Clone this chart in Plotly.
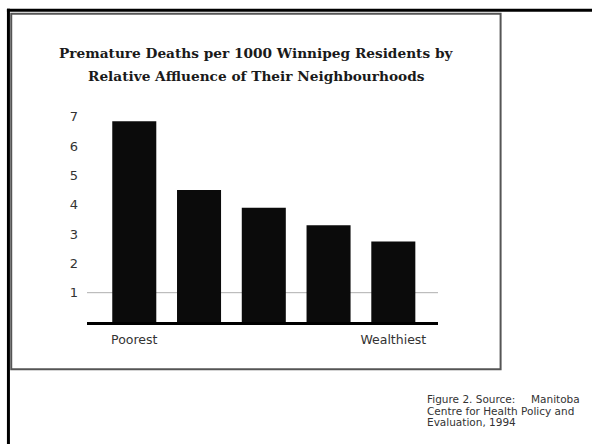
import plotly.graph_objects as go

# Neighbourhood affluence quintiles, poorest to wealthiest
categories = ["Poorest", "Q2", "Q3", "Q4", "Wealthiest"]
deaths_per_1000 = [6.85, 4.5, 3.9, 3.3, 2.75]
y_ticks = [1, 2, 3, 4, 5, 6, 7]
x_tick_labels = ["Poorest", "Wealthiest"]
title_lines = [
    "Premature Deaths per 1000 Winnipeg Residents by",
    "Relative Affluence of Their Neighbourhoods",
]
source_first = ["Figure 2. Source:", "Manitoba"]
source_rest = ["Centre for Health Policy and", "Evaluation, 1994"]

FIG_W, FIG_H = 592, 444
L, R, T, B = 86.7, 438.3, 107.8, 321.7  # plot area in page pixels
PW, PH = R - L, B - T


def px(x):
    return (x - L) / PW


def py(y):
    return (B - y) / PH


fig = go.Figure(
    go.Bar(
        x=categories,
        y=deaths_per_1000,
        width=0.68,
        marker=dict(color="#0b0b0b", line=dict(width=0)),
        hoverinfo="skip",
    )
)

shapes = [
    # light reference line at 1
    dict(type="line", xref="paper", yref="y", x0=0, x1=1, y0=1, y1=1,
         line=dict(color="#b0b0b0", width=1), layer="below"),
    # heavy outer frame (left and top)
    dict(type="line", xref="paper", yref="paper",
         x0=px(8), x1=px(8), y0=py(8.5), y1=py(FIG_H + 2),
         line=dict(color="#000", width=3)),
    dict(type="line", xref="paper", yref="paper",
         x0=px(6.5), x1=px(FIG_W + 2), y0=py(10), y1=py(10),
         line=dict(color="#000", width=3)),
    # inner box around the chart
    dict(type="rect", xref="paper", yref="paper",
         x0=px(10.8), x1=px(501), y0=py(369), y1=py(13.5),
         line=dict(color="#555", width=2), fillcolor="rgba(0,0,0,0)"),
]

annotations = []
for line, yc in zip(title_lines, [52.7, 76.2]):
    annotations.append(dict(
        text=f"<b>{line}</b>", xref="paper", yref="paper",
        x=px(256), y=py(yc), xanchor="center", yanchor="middle",
        showarrow=False,
        font=dict(family="DejaVu Serif", size=13.7, color="#1a1a1a"),
    ))

src_font = dict(family="DejaVu Sans", size=10.5, color="#333")
annotations.append(dict(text=source_first[0], xref="paper", yref="paper",
                        x=px(425), y=py(398.5), xanchor="left", yanchor="middle",
                        showarrow=False, font=src_font))
annotations.append(dict(text=source_first[1], xref="paper", yref="paper",
                        x=px(583), y=py(398.5), xanchor="right", yanchor="middle",
                        showarrow=False, font=src_font))
for line, yc in zip(source_rest, [410.5, 422]):
    annotations.append(dict(text=line, xref="paper", yref="paper",
                            x=px(425), y=py(yc), xanchor="left", yanchor="middle",
                            showarrow=False, font=src_font))

fig.update_layout(
    width=FIG_W,
    height=FIG_H,
    margin=dict(l=L, r=FIG_W - R, t=T, b=FIG_H - B, pad=0),
    paper_bgcolor="white",
    plot_bgcolor="white",
    showlegend=False,
    shapes=shapes,
    annotations=annotations,
    xaxis=dict(
        type="category",
        range=[-0.73, 4.69],
        tickvals=x_tick_labels,
        ticktext=x_tick_labels,
        showgrid=False,
        zeroline=False,
        showline=True,
        linecolor="#000",
        linewidth=3,
        ticks="",
        ticklabelstandoff=4,
        tickfont=dict(family="DejaVu Sans", size=12.5, color="#333"),
        fixedrange=True,
    ),
    yaxis=dict(
        range=[0, 7.3],
        tickvals=y_ticks,
        showgrid=False,
        zeroline=False,
        showline=False,
        ticks="",
        ticklabelstandoff=8,
        tickfont=dict(family="DejaVu Sans", size=13, color="#333"),
        fixedrange=True,
    ),
)

fig.write_html("out.html", config={"displayModeBar": False})
